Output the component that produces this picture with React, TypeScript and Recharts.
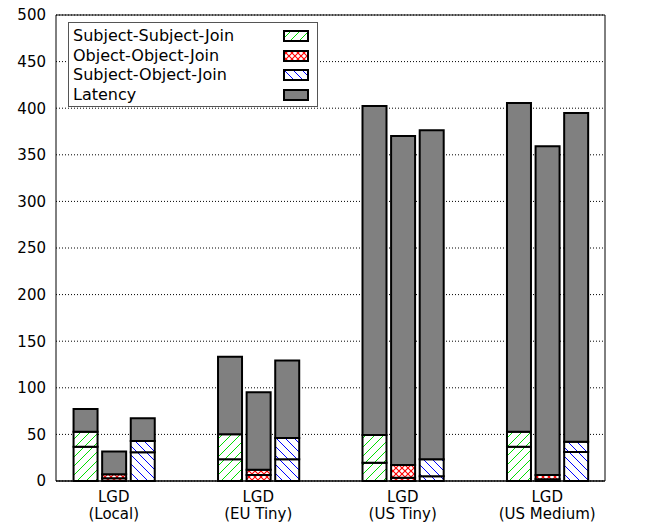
import React from 'react';
import { BarChart, Bar, XAxis, YAxis, CartesianGrid, ReferenceLine, Legend } from 'recharts';

// Group labels (two lines each)
const platforms = ['LGD', 'LGD', 'LGD', 'LGD'];
const setups = ['(Local)', '(EU Tiny)', '(US Tiny)', '(US Medium)'];

// Network latency per setup (same for all three join types)
const latency = [24.4, 83.2, 353, 352.7];

// Join times, two phases each
const subjectSubjectPhase1 = [36.8, 23.3, 19.6, 36.8];
const subjectSubjectPhase2 = [16.1, 26.8, 29.8, 16.1];
const objectObjectPhase1 = [3, 6.5, 3.5, 2];
const objectObjectPhase2 = [4.2, 5.5, 13.7, 4.4];
const subjectObjectPhase1 = [30.8, 23.3, 5.2, 31];
const subjectObjectPhase2 = [12.1, 22.8, 18.2, 11.2];

const yTicks = [0, 50, 100, 150, 200, 250, 300, 350, 400, 450, 500];
const legendLabels = ['Subject-Subject-Join', 'Object-Object-Join', 'Subject-Object-Join', 'Latency'];

const data = platforms.map((_, i) => ({
  pos: i,
  ss1: subjectSubjectPhase1[i],
  ss2: subjectSubjectPhase2[i],
  oo1: objectObjectPhase1[i],
  oo2: objectObjectPhase2[i],
  so1: subjectObjectPhase1[i],
  so2: subjectObjectPhase2[i],
  lat: latency[i],
}));

const FONT = '"DejaVu Sans", Verdana, sans-serif';
const GRAY = '#808080';

const Patterns = ({ prefix }: { prefix: string }) => (
  <defs>
    <pattern id={`${prefix}green`} patternUnits="userSpaceOnUse" width="9" height="9">
      <rect width="9" height="9" fill="#fff" />
      <path d="M0,9 L9,0 M-2,2 L2,-2 M7,11 L11,7" stroke="#00dd00" strokeWidth="1" />
    </pattern>
    <pattern id={`${prefix}red`} patternUnits="userSpaceOnUse" width="6" height="6">
      <rect width="6" height="6" fill="#fff" />
      <path d="M0,0 L6,6 M6,0 L0,6" stroke="#ff0000" strokeWidth="1.1" />
    </pattern>
    <pattern id={`${prefix}blue`} patternUnits="userSpaceOnUse" width="9" height="9">
      <rect width="9" height="9" fill="#fff" />
      <path d="M0,0 L9,9 M-2,7 L2,11 M7,-2 L11,2" stroke="#0000ff" strokeWidth="1" />
    </pattern>
  </defs>
);

const XTick = (props: any) => {
  const { x, y, payload } = props;
  const i = payload.value as number;
  return (
    <text x={x} y={y} textAnchor="middle" fontSize={15} fontFamily={FONT} fill="#000">
      <tspan x={x} dy={20.5}>{platforms[i]}</tspan>
      <tspan x={x} dy={17.5}>{setups[i]}</tspan>
    </text>
  );
};

const legendFills = ['url(#lg-green)', 'url(#lg-red)', 'url(#lg-blue)', GRAY];

const LegendBox = () => (
  <div
    style={{
      width: 250,
      height: 85,
      boxSizing: 'border-box',
      background: '#fff',
      border: '1px solid #555',
      position: 'relative',
      fontFamily: FONT,
      fontSize: 16,
      color: '#000',
    }}
  >
    <svg width={0} height={0} style={{ position: 'absolute' }}>
      <Patterns prefix="lg-" />
    </svg>
    {legendLabels.map((label, i) => (
      <div
        key={label}
        style={{ position: 'absolute', left: 4, top: 3 + i * 19.7, height: 20, lineHeight: '20px', width: 242 }}
      >
        <span>{label}</span>
        <svg width={28} height={14} style={{ position: 'absolute', left: 210, top: 4 }}>
          <rect x={1} y={1} width={24} height={10} fill={legendFills[i]} stroke="#000" strokeWidth={2} />
        </svg>
      </div>
    ))}
  </div>
);

export default function App() {
  const barProps = { stroke: '#000', strokeWidth: 2, isAnimationActive: false, yAxisId: 'left' };
  return (
    <div style={{ position: 'absolute', left: 0, top: 0, width: 662, height: 523, background: '#fff' }}>
      <BarChart
        width={662}
        height={523}
        data={data}
        margin={{ top: 15, right: 0, bottom: 0, left: 0 }}
        barSize={24}
        barGap={4.6}
      >
        <Patterns prefix="" />
        <CartesianGrid yAxisId="left" vertical={false} stroke="#000" strokeDasharray="1 2" />
        <Bar dataKey="ss1" stackId="ss" fill="url(#green)" {...barProps} />
        <Bar dataKey="ss2" stackId="ss" fill="url(#green)" {...barProps} />
        <Bar dataKey="lat" stackId="ss" fill={GRAY} {...barProps} />
        <Bar dataKey="oo1" stackId="oo" fill="url(#red)" {...barProps} />
        <Bar dataKey="oo2" stackId="oo" fill="url(#red)" {...barProps} />
        <Bar dataKey="lat" stackId="oo" fill={GRAY} {...barProps} />
        <Bar dataKey="so1" stackId="so" fill="url(#blue)" {...barProps} />
        <Bar dataKey="so2" stackId="so" fill="url(#blue)" {...barProps} />
        <Bar dataKey="lat" stackId="so" fill={GRAY} {...barProps} />
        <XAxis
          type="number"
          dataKey="pos"
          domain={[-0.4, 3.4]}
          ticks={[0, 1, 2, 3]}
          interval={0}
          allowDataOverflow
          height={42}
          tickLine={false}
          tickSize={0}
          tickMargin={0}
          tick={<XTick />}
          axisLine={{ stroke: '#000', strokeWidth: 1.5 }}
        />
        <YAxis
          yAxisId="left"
          orientation="left"
          width={56}
          domain={[0, 500]}
          ticks={yTicks}
          interval={0}
          tickLine={false}
          tickSize={6}
          tickMargin={4}
          axisLine={{ stroke: '#000', strokeWidth: 1 }}
          tick={{ fill: '#000', fontSize: 15, fontFamily: FONT }}
        />
        <YAxis
          yAxisId="right"
          orientation="right"
          width={57}
          domain={[0, 500]}
          ticks={yTicks}
          interval={0}
          tickLine={false}
          tickSize={6}
          tickMargin={5}
          axisLine={{ stroke: '#000', strokeWidth: 1 }}
          tick={{ fill: '#000', fontSize: 15, fontFamily: FONT }}
        />
        <ReferenceLine yAxisId="left" y={500} stroke="#000" strokeWidth={1} />
        <Legend
          layout="horizontal"
          verticalAlign="middle"
          align="center"
          width={250}
          height={85}
          wrapperStyle={{ left: 68, top: 22, width: 250, height: 85 }}
          content={() => <LegendBox />}
        />
      </BarChart>
    </div>
  );
}
